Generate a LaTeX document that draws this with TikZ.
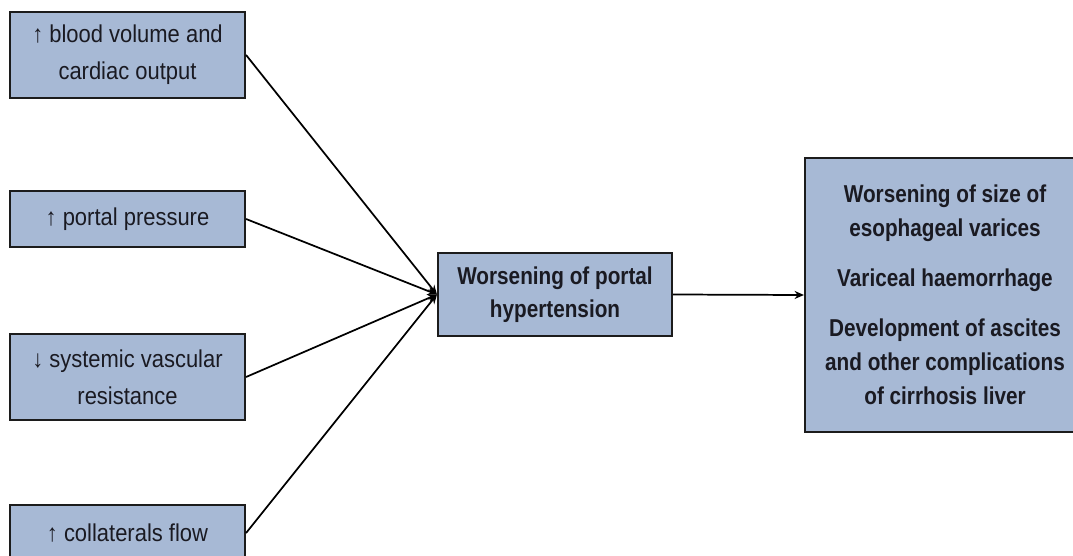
\documentclass[tikz,border=0pt]{standalone}
\usepackage{fontspec}
\setmainfont{Liberation Sans}[FakeStretch=0.9, BoldFeatures={FakeStretch=0.85}]
\usetikzlibrary{arrows.meta}
\definecolor{boxfill}{HTML}{A7B9D5}
\definecolor{boxline}{HTML}{1C1C1C}
\definecolor{txt}{HTML}{1A1A22}
\tikzset{
  cause/.style={draw=boxline, line width=1.6pt, fill=boxfill, text=txt, align=center,
    minimum width=235*0.75pt, inner sep=0pt,
    font=\fontsize{18.3}{27.5}\selectfont},
  centre/.style={draw=boxline, line width=1.6pt, fill=boxfill, text=txt, align=center,
    minimum width=234*0.75pt, minimum height=83*0.75pt, inner sep=0pt,
    font=\fontsize{18.3}{25}\selectfont\bfseries},
  result/.style={draw=boxline, line width=1.6pt, fill=boxfill, text=txt, align=center,
    minimum width=280*0.75pt, minimum height=274*0.75pt, inner sep=0pt,
    font=\fontsize{18.3}{25.5}\selectfont\bfseries},
  conn/.style={draw=black, line width=1.3pt, -{Stealth[length=7pt,width=6pt]}}
}
\begin{document}
\begin{tikzpicture}[x=0.75pt,y=-0.75pt]
\useasboundingbox (0,0) rectangle (1073,556);
\clip (0,0) rectangle (1073,556);
\fill[white] (0,0) rectangle (1073,556);
\node[cause, minimum height=86*0.75pt] (b1) at (127.5,55) {↑ blood volume and\\cardiac output};
\node[cause, minimum height=56*0.75pt] (b2) at (127.5,219) {↑ portal pressure};
\node[cause, minimum height=86*0.75pt] (b3) at (127.5,377) {↓ systemic vascular\\resistance};
\node[cause, minimum height=56*0.75pt] (b4) at (127.5,533) {↑ collaterals flow};
\node[centre] (m) at (555,294.5) {Worsening of portal\\hypertension};
\node[result] (r) at (945,295) {Worsening of size of\\esophageal varices\\[12pt]Variceal haemorrhage\\[12pt]Development of ascites\\and other complications\\of cirrhosis liver};
\draw[conn] (b1.east) -- (m.west);
\draw[conn] (b2.east) -- (m.west);
\draw[conn] (b3.east) -- (m.west);
\draw[conn] (b4.east) -- (m.west);
\draw[conn] (m.east) -- (r.west);
\end{tikzpicture}
\end{document}
